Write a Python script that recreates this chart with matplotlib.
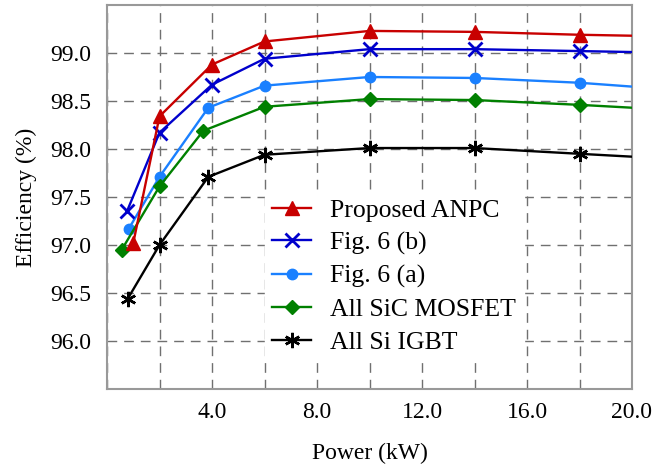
import matplotlib
matplotlib.use('Agg')
import matplotlib.pyplot as plt
from matplotlib.ticker import MultipleLocator

plt.rcParams['font.family'] = ['Liberation Serif', 'DejaVu Serif']
plt.rcParams['font.size'] = 17

# Efficiency vs output power for each converter topology
anpc_kw = [1.0, 2.0, 4.0, 6.0, 10.0, 14.0, 18.0, 20.0]
anpc_eff = [97.02, 98.34, 98.88, 99.12, 99.23, 99.22, 99.19, 99.18]

fig6b_kw = [0.76, 2.0, 4.0, 6.0, 10.0, 14.0, 18.0, 20.0]
fig6b_eff = [97.35, 98.17, 98.67, 98.94, 99.04, 99.04, 99.02, 99.01]

fig6a_kw = [0.83, 2.0, 3.86, 6.0, 10.0, 14.0, 18.0, 20.0]
fig6a_eff = [97.17, 97.71, 98.43, 98.66, 98.75, 98.74, 98.69, 98.65]

sic_kw = [0.56, 2.0, 3.67, 6.0, 10.0, 14.0, 18.0, 20.0]
sic_eff = [96.95, 97.61, 98.19, 98.44, 98.52, 98.51, 98.46, 98.43]

igbt_kw = [0.79, 2.0, 3.86, 6.0, 10.0, 14.0, 18.0, 20.0]
igbt_eff = [96.44, 97.0, 97.71, 97.94, 98.01, 98.01, 97.95, 97.92]

fig = plt.figure(figsize=(6.53, 4.7), dpi=100)
ax = fig.add_axes([107 / 653, 1 - 389 / 470, 525 / 653, 384 / 470])

marks = list(range(7))  # no marker on the end point at the axis edge
ax.plot(anpc_kw, anpc_eff, color='#c80000', lw=1.7, marker='^', ms=10.5,
        markevery=marks, label='Proposed ANPC', zorder=5)
ax.plot(fig6b_kw, fig6b_eff, color='#0000cc', lw=1.7, marker='x', ms=10, mew=2,
        markevery=marks, label='Fig. 6 (b)', zorder=4)
ax.plot(fig6a_kw, fig6a_eff, color='#1a80ff', lw=1.7, marker='o', ms=7.5,
        markevery=marks, label='Fig. 6 (a)', zorder=3)
ax.plot(sic_kw, sic_eff, color='#008000', lw=1.7, marker='D', ms=7,
        markevery=marks, label='All SiC MOSFET', zorder=3)
ax.plot(igbt_kw, igbt_eff, color='black', lw=1.7, marker=(6, 2, 0), ms=11, mew=1.8,
        markevery=marks, label='All Si IGBT', zorder=3)

ax.set_xlim(0, 20)
ax.set_ylim(95.5, 99.5)
ax.xaxis.set_major_locator(MultipleLocator(4))
ax.xaxis.set_minor_locator(MultipleLocator(2))
ax.set_xticks([4, 8, 12, 16, 20])
ax.set_xticklabels(['4.0', '8.0', '12.0', '16.0', '20.0'])
ax.set_yticks([96.0, 96.5, 97.0, 97.5, 98.0, 98.5, 99.0])
ax.set_yticklabels(['96.0', '96.5', '97.0', '97.5', '98.0', '98.5', '99.0'])
ax.tick_params(which='both', length=0)
ax.tick_params(axis='x', pad=9)
ax.tick_params(axis='y', pad=11)

ax.grid(True, which='both', axis='x', color='#707070', lw=1.0, ls=(0, (7, 5)))
ax.grid(True, which='major', axis='y', color='#707070', lw=1.0, ls=(0, (7, 5)))
ax.set_axisbelow(True)
for s in ax.spines.values():
    s.set_color('#999999')
    s.set_linewidth(1.5)

ax.set_xlabel('Power (kW)', labelpad=15)
ax.set_ylabel('Efficiency (%)', labelpad=10)

leg = ax.legend(loc='center', bbox_to_anchor=(0.547, 0.294), frameon=True,
                fancybox=False, framealpha=1, edgecolor='white', facecolor='white',
                handlelength=1.5, handletextpad=0.75, labelspacing=0.38,
                borderpad=0.3, fontsize=18.5)

fig.savefig('out.png', dpi=100)
